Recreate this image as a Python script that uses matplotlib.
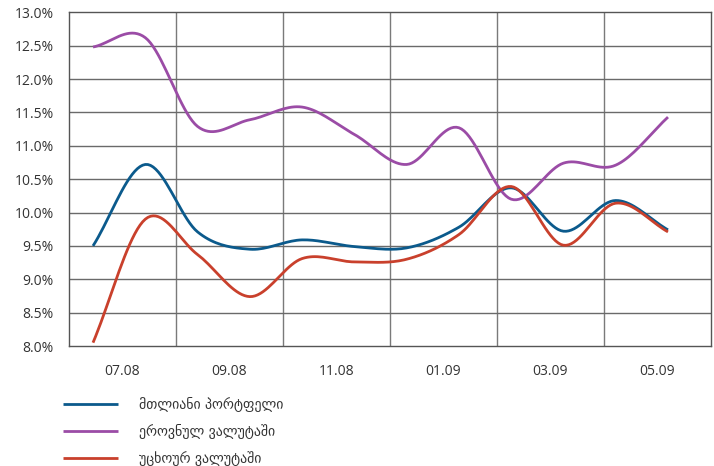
import numpy as np
import matplotlib.pyplot as plt

# monthly values, 06.08 .. 05.09 (%)
months = np.arange(12)
total = [9.50, 10.72, 9.71, 9.45, 9.59, 9.49, 9.47, 9.78, 10.37, 9.72, 10.18, 9.74]
gel = [12.48, 12.62, 11.29, 11.39, 11.58, 11.17, 10.72, 11.27, 10.20, 10.74, 10.71, 11.43]
fx = [8.05, 9.90, 9.37, 8.74, 9.31, 9.26, 9.30, 9.67, 10.39, 9.51, 10.14, 9.71]
tick_labels = ['07.08', '09.08', '11.08', '01.09', '03.09', '05.09']
names = ['მთლიანი პორტფელი', 'ეროვნულ ვალუტაში', 'უცხოურ ვალუტაში']
colors = ['#0b5a8c', '#9b4ca6', '#c9402c']


def smooth(x, y, n=20):
    # catmull-rom curve through the points (like excel's smoothed line)
    x = np.asarray(x, float)
    y = np.asarray(y, float)
    px = np.concatenate([[2*x[0]-x[1]], x, [2*x[-1]-x[-2]]])
    py = np.concatenate([[2*y[0]-y[1]], y, [2*y[-1]-y[-2]]])
    xs, ys = [], []
    t = np.linspace(0, 1, n, endpoint=False)
    for i in range(1, len(px)-2):
        for p, out in ((px, xs), (py, ys)):
            p0, p1, p2, p3 = p[i-1], p[i], p[i+1], p[i+2]
            out.extend(0.5*((2*p1) + (-p0+p2)*t + (2*p0-5*p1+4*p2-p3)*t**2
                            + (-p0+3*p1-3*p2+p3)*t**3))
    xs.append(x[-1])
    ys.append(y[-1])
    return np.array(xs), np.array(ys)


fig = plt.figure(figsize=(7.14, 4.66), dpi=100)
ax = fig.add_axes([0.0966, 0.2575, 0.899, 0.7161])

lines = []
for vals, c in zip([total, gel, fx], colors):
    sx, sy = smooth(months, vals)
    l, = ax.plot(sx, sy, color=c, lw=2.0, solid_capstyle='butt', zorder=3)
    lines.append(l)

x0, x1 = -0.46, 11.82
ax.set_xlim(x0, x1)
ax.set_ylim(8.0, 13.0)
bounds = np.linspace(x0, x1, 7)
for b in bounds[1:-1]:
    ax.axvline(b, color='#7a7a7a', lw=1.0, zorder=1)
for v in np.arange(8.5, 13.0, 0.5):
    ax.axhline(v, color='#6a6a6a', lw=1.0, zorder=1)

ax.set_yticks(np.arange(8.0, 13.01, 0.5))
ax.set_yticklabels(['%.1f%%' % v for v in np.arange(8.0, 13.01, 0.5)])
ax.set_xticks((bounds[:-1] + bounds[1:]) / 2)
ax.set_xticklabels(tick_labels)
ax.tick_params(axis='y', length=0, pad=11, labelsize=10, labelcolor='#333333')
ax.tick_params(axis='x', length=0, pad=13, labelsize=10, labelcolor='#333333')
for lab in ax.get_xticklabels() + ax.get_yticklabels():
    lab.set_family(['Open Sans', 'DejaVu Sans'])
for s in ax.spines.values():
    s.set_color('#555555')
    s.set_linewidth(1.0)

fig.legend(lines, names, loc='upper left', bbox_to_anchor=(0.088, 0.148),
           frameon=False, handlelength=4.0, handletextpad=1.45,
           labelspacing=0.85, borderpad=0, borderaxespad=0,
           prop={'family': ['DejaVu Sans'], 'size': 10})
for t in fig.legends[0].get_texts():
    t.set_color('#333333')

fig.savefig('out.png', dpi=100)
